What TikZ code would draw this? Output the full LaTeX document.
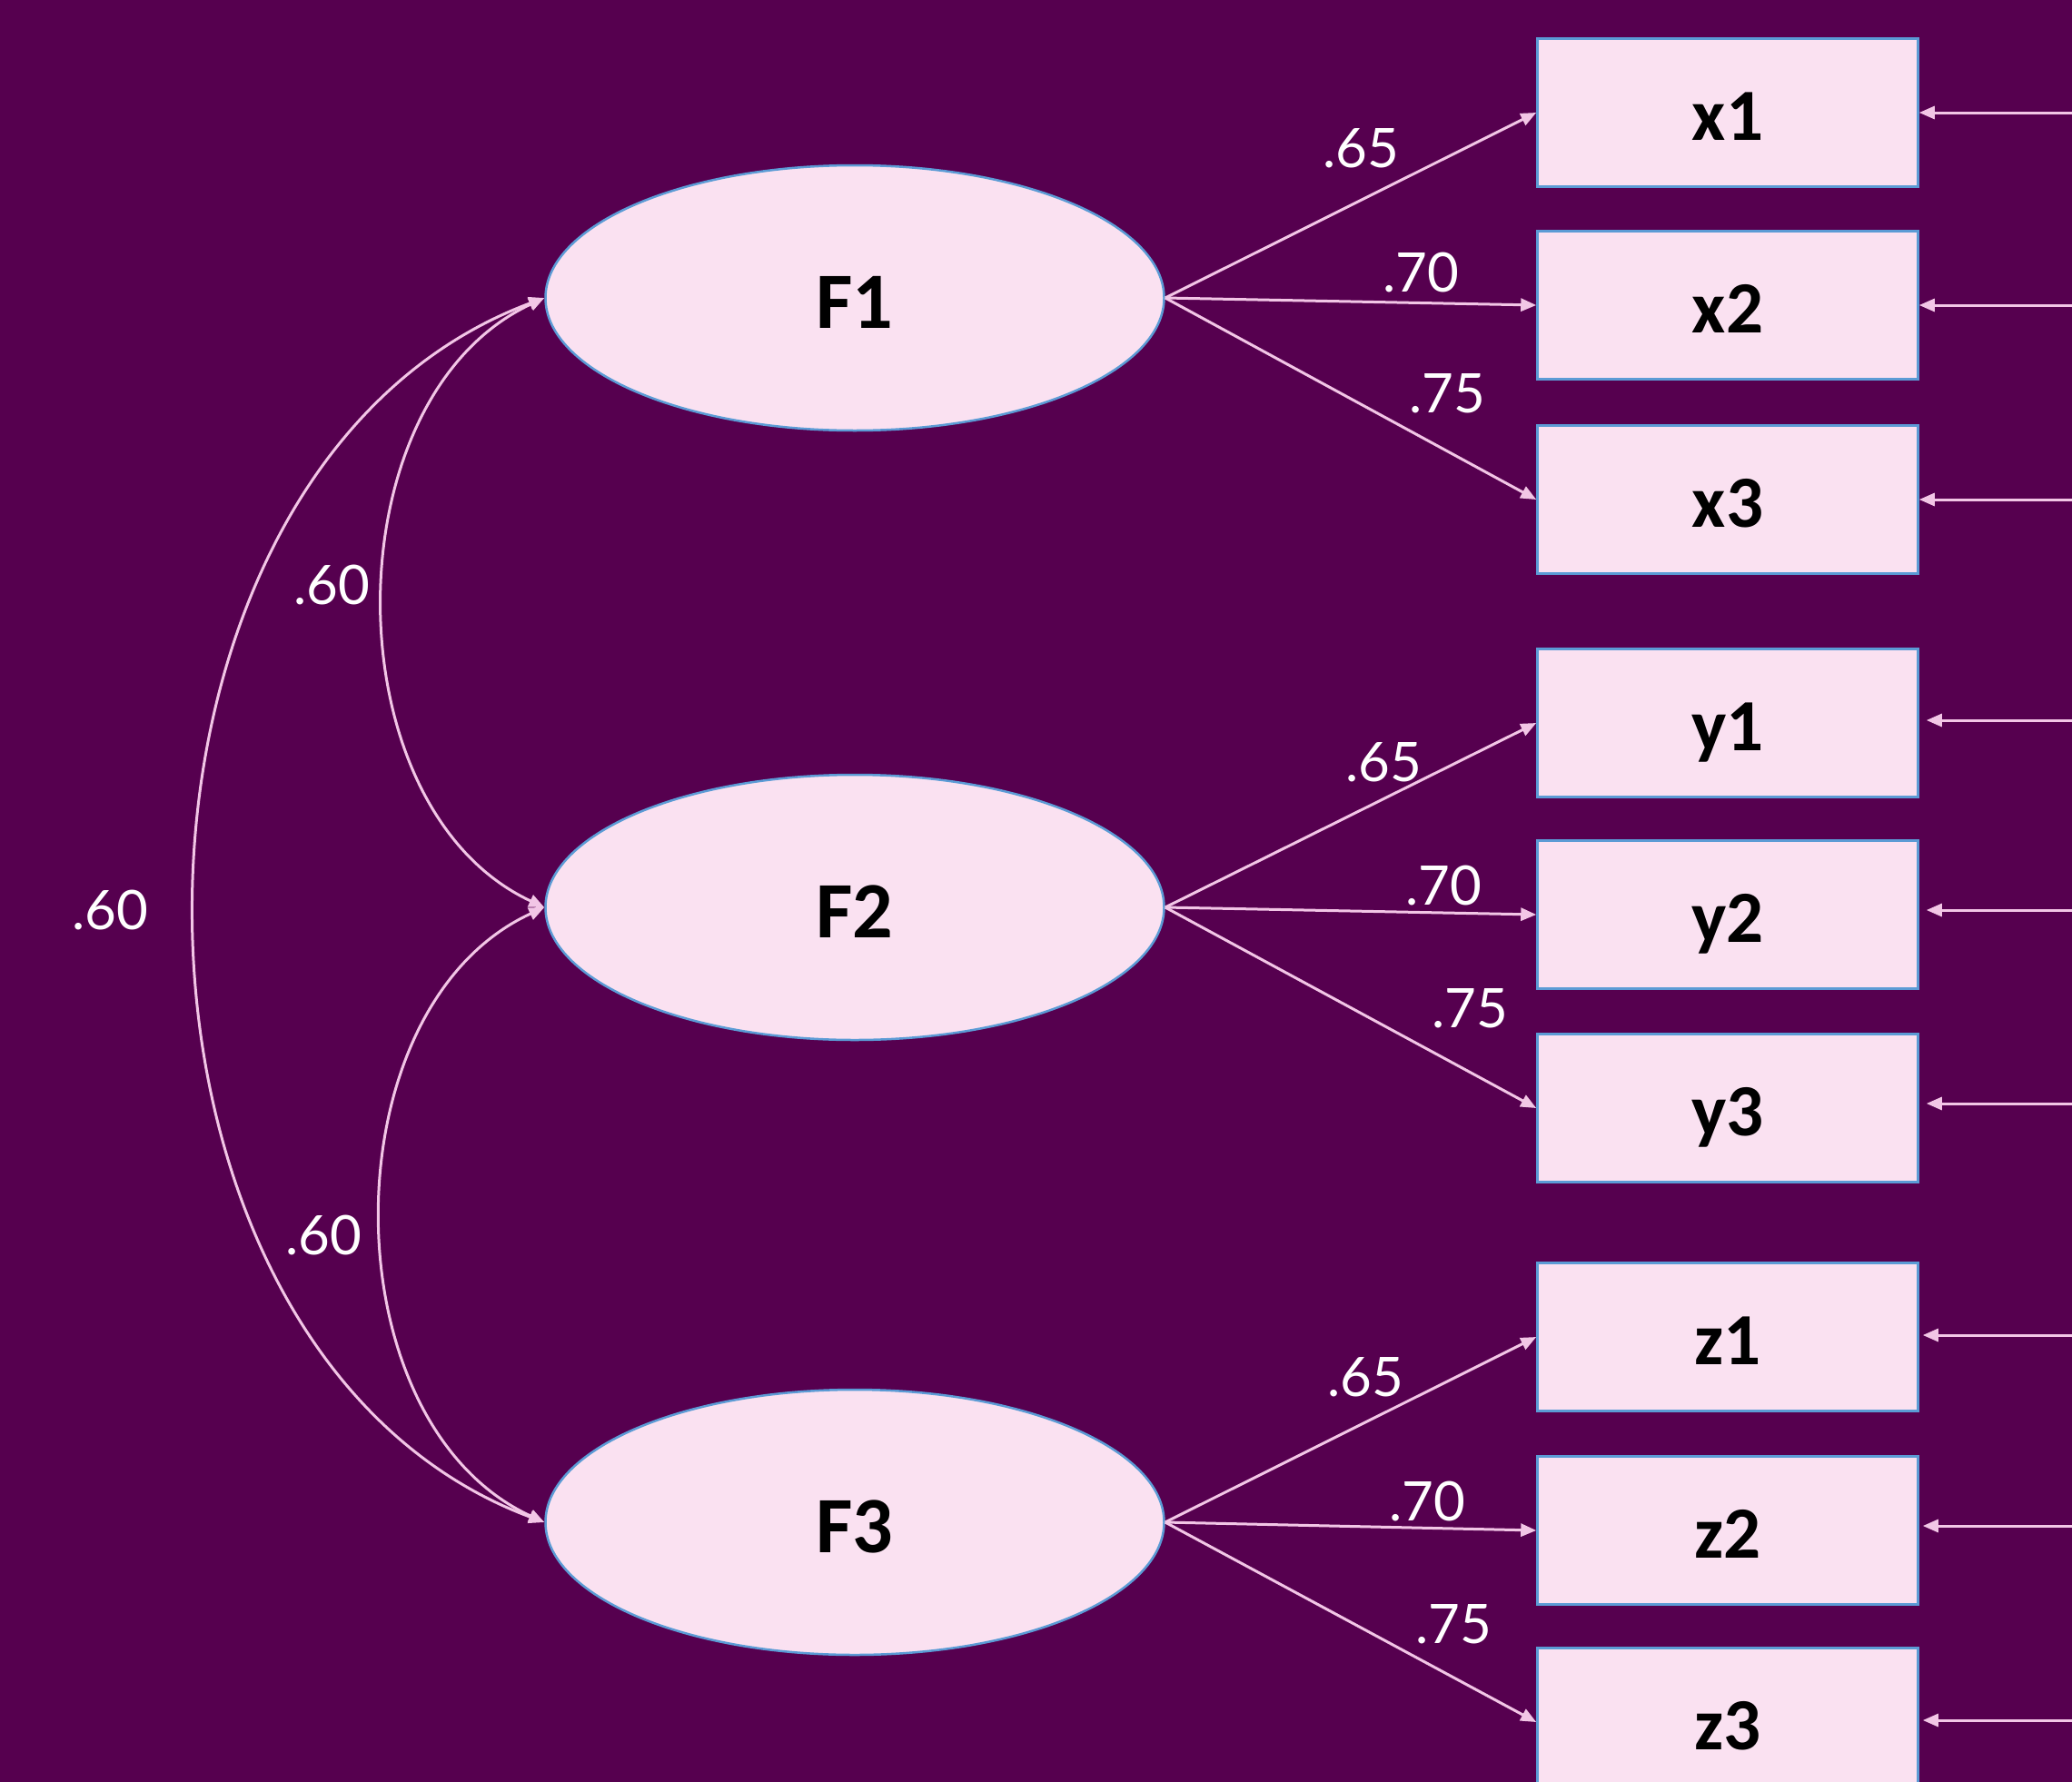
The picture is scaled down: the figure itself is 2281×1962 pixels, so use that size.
\documentclass[tikz,border=0pt]{standalone}
\usepackage{fontspec}
\setmainfont{Carlito}
\newfontfamily\labfont{Lato}
\usetikzlibrary{arrows.meta,shapes.geometric}
\definecolor{bgc}{HTML}{56004F}
\definecolor{fillc}{HTML}{FAE1F1}
\definecolor{bordc}{HTML}{5B9BD5}
\definecolor{arrc}{HTML}{F2C6E6}
\tikzset{
  latent/.style={ellipse, draw=bordc, fill=fillc, line width=2.5pt, minimum width=681pt, minimum height=292pt, inner sep=0pt, text height=66pt, text depth=0pt, font=\fontsize{88}{104}\selectfont\bfseries},
  manifest/.style={rectangle, draw=bordc, fill=fillc, line width=2.5pt, minimum width=419pt, minimum height=163pt, inner sep=0pt, text height=60pt, text depth=0pt, font=\fontsize{81}{96}\selectfont\bfseries},
  load/.style={draw=arrc, line width=3pt, -{Triangle[length=17pt,width=14pt]}},
  corr/.style={draw=arrc, line width=3pt, {Triangle[length=17pt,width=14pt]}-{Triangle[length=17pt,width=14pt]}},
  lab/.style={text=white, inner sep=0pt, font=\labfont\fontsize{60}{72}\selectfont}
}
\begin{document}
\begin{tikzpicture}[x=1pt,y=-1pt]
\fill[bgc] (0,0) rectangle (2281,1962);
\useasboundingbox (0,0) rectangle (2281,1962);
\begin{scope}
\clip (0,0) rectangle (2281,1962);
% latent factors
\node[latent] (F1) at (941,328) {F1};
\node[latent] (F2) at (941,999) {F2};
\node[latent] (F3) at (941,1676) {F3};
% indicators
\node[manifest] (x1) at (1902,124) {x1};
\node[manifest] (x2) at (1902,336) {x2};
\node[manifest] (x3) at (1902,550) {x3};
\node[manifest] (y1) at (1902,796) {y1};
\node[manifest] (y2) at (1902,1007) {y2};
\node[manifest] (y3) at (1902,1220) {y3};
\node[manifest] (z1) at (1902,1472) {z1};
\node[manifest] (z2) at (1902,1685) {z2};
\node[manifest] (z3) at (1902,1896) {z3};
% loadings
\draw[load] (F1.east) -- (x1.west);
\draw[load] (F1.east) -- (x2.west);
\draw[load] (F1.east) -- (x3.west);
\draw[load] (F2.east) -- (y1.west);
\draw[load] (F2.east) -- (y2.west);
\draw[load] (F2.east) -- (y3.west);
\draw[load] (F3.east) -- (z1.west);
\draw[load] (F3.east) -- (z2.west);
\draw[load] (F3.east) -- (z3.west);
% error arrows
\coordinate (ex1) at (2281,124);
\coordinate (ex2) at (2281,336);
\coordinate (ex3) at (2281,550);
\coordinate (ey1) at (2281,793);
\coordinate (ey2) at (2281,1002);
\coordinate (ey3) at (2281,1215);
\coordinate (ez1) at (2281,1470);
\coordinate (ez2) at (2281,1680);
\coordinate (ez3) at (2281,1894);
\draw[load] (ex1) -- (x1.east);
\draw[load] (ex2) -- (x2.east);
\draw[load] (ex3) -- (x3.east);
\draw[load, shorten >=8pt] (ey1) -- (ey1 -| y1.east);
\draw[load, shorten >=8pt] (ey2) -- (ey2 -| y2.east);
\draw[load, shorten >=8pt] (ey3) -- (ey3 -| y3.east);
\draw[load, shorten >=4pt] (ez1) -- (ez1 -| z1.east);
\draw[load, shorten >=4pt] (ez2) -- (ez2 -| z2.east);
\draw[load, shorten >=4pt] (ez3) -- (ez3 -| z3.east);
% correlations
\draw[corr] (F1.west) .. controls +(-236,110) and +(-236,-110) .. (F2.west);
\draw[corr] (F2.west) .. controls +(-239,110) and +(-239,-110) .. (F3.west);
\draw[corr] (F1.west) .. controls +(-512,191) and +(-512,-191) .. (F3.west);
% labels
\node[lab] (l1) at (1498,163) {.65};
\node[lab] (l2) at (1564,300) {.70};
\node[lab] (l3) at (1593,433) {.75};
\node[lab] (l4) at (1523,839) {.65};
\node[lab] (l5) at (1589,975) {.70};
\node[lab] (l6) at (1618,1110) {.75};
\node[lab] (l7) at (1503,1516) {.65};
\node[lab] (l8) at (1571,1653) {.70};
\node[lab] (l9) at (1600,1788) {.75};
\node[lab] (c1) at (365,644) {.60};
\node[lab] (c2) at (121,1002) {.60};
\node[lab] (c3) at (356,1360) {.60};
\end{scope}
\end{tikzpicture}
\end{document}
